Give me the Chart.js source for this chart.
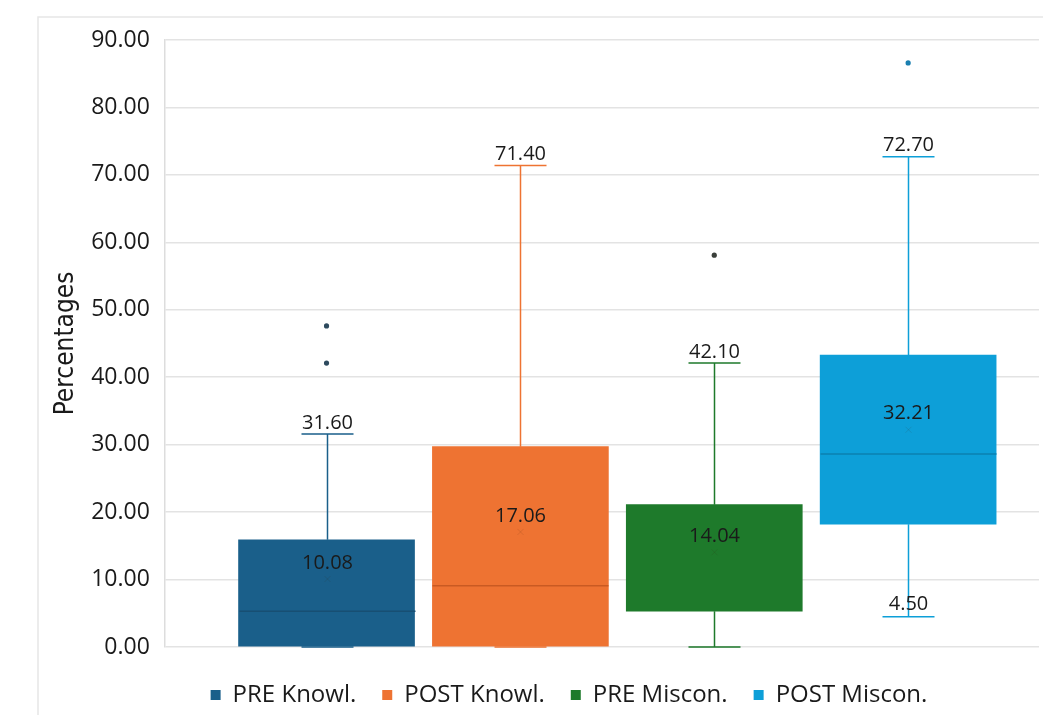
<!DOCTYPE html>
<html>
<head>
<meta charset="utf-8">
<title>Percentages box plot</title>
<script src="https://cdn.jsdelivr.net/npm/chart.js@4.4.0/dist/chart.umd.min.js"></script>
<style>
  body { margin: 0; background: #fff; }
  #wrap { width: 1043px; height: 715px; }
</style>
</head>
<body>
<div id="wrap"><canvas id="grafico" width="1043" height="715"></canvas></div>
<script>
// groups and five-number summaries
var groups   = ['PRE Knowl.', 'POST Knowl.', 'PRE Miscon.', 'POST Miscon.'];
var minimo   = [0, 0, 0, 4.5];
var q1       = [0, 0, 5.3, 18.2];
var mediana  = [5.3, 9.1, 5.3, 28.6];
var q3       = [15.9, 29.7, 21.1, 43.3];
var maximo   = [31.6, 71.4, 42.1, 72.7];
var media    = [10.08, 17.06, 14.04, 32.21];
var atipicos = [[42.1, 47.6], [], [58.1], [86.6]];
var yTicks   = [0, 10, 20, 30, 40, 50, 60, 70, 80, 90];

var colores  = ['#1a5f8a', '#ee7332', '#1e7a2b', '#0d9fd8'];
var oscuros  = ['#174f73', '#c95a22', '#175f21', '#0b80b0'];
var puntos   = ['#2e4a5e', '#c95a22', '#3a3f3a', '#1a7fb0'];

var datasets = [];
groups.forEach(function(g, i) {
  datasets.push({
    type: 'bar',
    label: g,
    data: [{ x: i + 1, y: [q1[i], q3[i]] }],
    backgroundColor: colores[i],
    borderWidth: 0,
    barThickness: 176,
    grouped: false
  });
});
groups.forEach(function(g, i) {
  datasets.push({
    type: 'scatter',
    label: g + ' outliers',
    data: atipicos[i].map(function(v) { return { x: i + 1, y: v }; }),
    backgroundColor: puntos[i],
    borderWidth: 0,
    pointRadius: 2.6
  });
});

// frame around the whole figure
var marco = {
  id: 'marco',
  beforeDraw: function(chart) {
    var ctx = chart.ctx;
    ctx.save();
    ctx.strokeStyle = '#e6e6e6';
    ctx.lineWidth = 1.5;
    ctx.beginPath();
    ctx.moveTo(38, 730);
    ctx.lineTo(38, 17);
    ctx.lineTo(1060, 17);
    ctx.stroke();
    ctx.restore();
  }
};

// nudge the legend a little right and down
var leyenda = {
  id: 'leyenda',
  afterLayout: function(chart) {
    var l = chart.legend;
    if (!l) return;
    l.left += 22; l.right += 22;
    l.top += 10; l.bottom += 10;
  }
};

// whiskers, caps, medians, mean marks and value labels
var bigotes = {
  id: 'bigotes',
  afterDatasetsDraw: function(chart) {
    var ctx = chart.ctx;
    var xs = chart.scales.x, ys = chart.scales.y;
    ctx.save();
    ctx.font = '20px "Open Sans"';
    ctx.textAlign = 'center';
    ctx.textBaseline = 'middle';
    groups.forEach(function(g, i) {
      var cx = Math.round(xs.getPixelForValue(i + 1)) + 0.5;
      var half = 88;
      var yMax = ys.getPixelForValue(maximo[i]);
      var yMin = ys.getPixelForValue(minimo[i]);
      var yQ1 = ys.getPixelForValue(q1[i]);
      var yQ3 = ys.getPixelForValue(q3[i]);
      ctx.strokeStyle = colores[i];
      ctx.lineWidth = 1.5;
      ctx.beginPath();
      ctx.moveTo(cx, yMax); ctx.lineTo(cx, yQ3);
      ctx.moveTo(cx - 26, yMax); ctx.lineTo(cx + 26, yMax);
      if (minimo[i] < q1[i]) {
        ctx.moveTo(cx, yQ1); ctx.lineTo(cx, yMin);
      }
      ctx.moveTo(cx - 26, yMin); ctx.lineTo(cx + 26, yMin);
      ctx.stroke();

      // median (hidden against the box edge when it equals q1)
      var yMed = ys.getPixelForValue(mediana[i]);
      if (mediana[i] > q1[i]) {
        ctx.strokeStyle = oscuros[i];
        ctx.beginPath();
        ctx.moveTo(cx - half, yMed); ctx.lineTo(cx + half, yMed);
        ctx.stroke();
      }

      // mean mark
      var yMean = ys.getPixelForValue(media[i]);
      ctx.strokeStyle = 'rgba(60,30,10,0.12)';
      ctx.lineWidth = 1;
      ctx.beginPath();
      ctx.moveTo(cx - 3, yMean - 3); ctx.lineTo(cx + 3, yMean + 3);
      ctx.moveTo(cx + 3, yMean - 3); ctx.lineTo(cx - 3, yMean + 3);
      ctx.stroke();

      ctx.fillStyle = '#1a1a1a';
      ctx.fillText(media[i].toFixed(2), cx, yMean - 16);
      ctx.fillText(maximo[i].toFixed(2), cx, yMax - 11);
      if (minimo[i] > 0) ctx.fillText(minimo[i].toFixed(2), cx, yMin - 12);
    });
    ctx.restore();
  }
};

var grafico = new Chart(document.getElementById('grafico').getContext('2d'), {
  type: 'bar',
  data: { datasets: datasets },
  options: {
    responsive: false,
    animation: false,
    layout: { padding: { top: 40, left: 51, right: 0, bottom: 8 } },
    scales: {
      x: {
        type: 'linear',
        min: 0.166,
        max: 4.675,
        offset: false,
        display: false
      },
      y: {
        min: 0,
        max: 90,
        afterBuildTicks: function(axis) {
          axis.ticks = yTicks.map(function(v) { return { value: v }; });
        },
        ticks: {
          callback: function(v) { return v.toFixed(2); },
          color: '#1a1a1a',
          font: { family: 'Open Sans', size: 23 },
          padding: 15
        },
        grid: { color: '#e3e3e3', lineWidth: 1.5, drawTicks: false },
        border: { display: true, color: '#dddddd', width: 1.5 },
        title: {
          display: true,
          text: 'Percentages',
          color: '#1a1a1a',
          font: { family: '"DejaVu Sans Condensed", "Liberation Sans Narrow", Roboto', size: 26 },
          padding: { top: 0, bottom: -6 }
        }
      }
    },
    plugins: {
      tooltip: { enabled: false },
      legend: {
        position: 'bottom',
        labels: {
          filter: function(item) { return item.datasetIndex < 4; },
          boxWidth: 10,
          boxHeight: 10,
          color: '#1a1a1a',
          font: { family: 'Open Sans', size: 24 },
          padding: 26
        }
      }
    }
  },
  plugins: [marco, leyenda, bigotes]
});
</script>
</body>
</html>
